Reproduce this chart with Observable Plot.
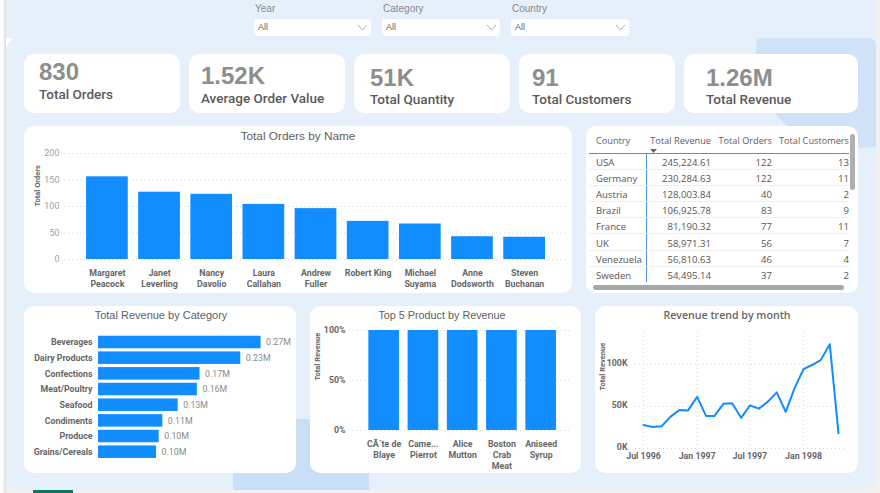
<!DOCTYPE html>
<html><head><meta charset="utf-8">
<script src="https://cdn.jsdelivr.net/npm/d3@7"></script>
<script src="https://cdn.jsdelivr.net/npm/@observablehq/plot@0.6"></script>
<style>
html,body{margin:0;padding:0;background:#f1f1f1;width:880px;height:493px;overflow:hidden;position:relative;font-family:"Open Sans",sans-serif}
.abs,.card,.kv,.kl,.title,.slab,.sbox{position:absolute}
#strip{position:absolute;left:0;top:0;width:6px;height:493px;background:linear-gradient(90deg,#fff,#fafafa 50%,#dcdcdc)}
#panel{position:absolute;left:6px;top:0;width:870px;height:490px;background:#e6f0fb;border-radius:0 0 10px 10px}
#green{position:absolute;left:33px;top:490px;width:40px;height:3px;background:#0b7a5f}
#deco{position:absolute;left:0;top:0}
.card{background:#fff;border-radius:10px;overflow:hidden}
.card svg{display:block;position:absolute;left:0;top:0}
.kv{font:bold 24px "Liberation Sans",sans-serif;color:#8e8e8e;line-height:24px;white-space:nowrap}
.kl{font:500 13.5px Roboto,sans-serif;color:#5a5a5a;line-height:16px;white-space:nowrap}
.title{color:#605e5c;white-space:nowrap;transform:translate(-50%,-50%);font:12px "Liberation Sans",sans-serif}
.slab{font:10px "Liberation Sans",sans-serif;color:#8a8a8a}
.sbox{background:#fff;border-radius:4px;height:17px;font:9px/17px "Liberation Sans",sans-serif;color:#666;box-sizing:border-box;padding-left:4px}
.sbox svg{position:absolute;right:3px;top:4px}
table{position:absolute;border-collapse:collapse;table-layout:fixed;left:3px;top:5px;width:260px;font:9.6px "Open Sans",sans-serif;color:#555}
th{font-weight:500;font-size:9.2px;height:22px;padding:0 0 2px 0;box-sizing:border-box;text-align:right;white-space:nowrap;vertical-align:middle;color:#605e5c;border-bottom:1.5px solid #4a94e6;position:relative}
td{height:13.2px;padding:2px 0 0 0;text-align:right;border-bottom:1px solid #eee;line-height:13px;white-space:nowrap}
th:first-child,td:first-child{text-align:left;padding-left:7px}
td:first-child{border-right:1.5px solid #4a94e6}
tr:last-child td{border-bottom:none}
</style></head><body>
<div id="strip"></div><div id="panel"></div><div id="green"></div>
<svg id="deco" width="880" height="493">
<path d="M757 38C752 70 760 105 790 128C810 142 850 153 876 146L876 46Q876 38 868 38Z" fill="#cfe2f8"/>
<rect x="233" y="419" width="136" height="71" fill="#c9dff5"/>
<path d="M6 38L13 38L6 47Z" fill="#fff"/>
</svg>
<div id="root"></div>
<script>
const ORDER_NAMES = ["Margaret\nPeacock","Janet\nLeverling","Nancy\nDavolio","Laura\nCallahan","Andrew\nFuller","Robert King","Michael\nSuyama","Anne\nDodsworth","Steven\nBuchanan"];
const ORDER_VALUES = [156,127,123,104,96,72,67,43,42];
const CATEGORIES = ["Beverages","Dairy Products","Confections","Meat/Poultry","Seafood","Condiments","Produce","Grains/Cereals"];
const CATEGORY_REVENUE = [268000,234500,167400,163000,131300,106000,100000,95700];
const PRODUCTS = ["CÃ´te de\nBlaye","Came...\nPierrot","Alice\nMutton","Boston\nCrab\nMeat","Aniseed\nSyrup"];
const PRODUCT_SHARE = [100,100,100,100,100];
const MONTHS = ["1996-07","1996-08","1996-09","1996-10","1996-11","1996-12","1997-01","1997-02","1997-03","1997-04","1997-05","1997-06","1997-07","1997-08","1997-09","1997-10","1997-11","1997-12","1998-01","1998-02","1998-03","1998-04","1998-05"];
const MONTH_REVENUE = [27900,25500,26400,37500,45600,45200,61300,38500,38500,53000,53800,36400,51000,47300,55600,66700,43500,71400,94200,99400,104900,123800,18300];
const KPI_VALUES = ["830","1.52K","51K","91","1.26M"];
const KPI_LABELS = ["Total Orders","Average Order Value","Total Quantity","Total Customers","Total Revenue"];
const TABLE_HEAD = ["Country","Total Revenue","Total Orders","Total Customers"];
const TABLE_COUNTRY = ["USA","Germany","Austria","Brazil","France","UK","Venezuela","Sweden"];
const TABLE_REVENUE = ["245,224.61","230,284.63","128,003.84","106,925.78","81,190.32","58,971.31","56,810.63","54,495.14"];
const TABLE_ORDERS = [122,122,40,83,77,56,46,37];
const TABLE_CUSTOMERS = [13,11,2,9,11,7,4,2];
const SLICERS = ["Year","Category","Country"];

const BLUE="#118dff", root=document.getElementById("root");
const axisFont='Roboto,sans-serif';
function el(cls,css,html){const d=document.createElement("div");d.className=cls;Object.assign(d.style,css);if(html!=null)d.innerHTML=html;return d}
function card(x,y,w,h){const c=el("card",{left:x+"px",top:y+"px",width:w+"px",height:h+"px"});root.append(c);return c}
function title(t,cx,cy,css){const d=el("title",Object.assign({left:cx+"px",top:cy+"px"},css||{}));d.textContent=t;root.append(d)}
const grid=(ticks,extra={})=>Plot.gridY(ticks,{stroke:"#d9d9d9",strokeOpacity:1,strokeDasharray:"1,3",strokeWidth:1,...extra});
const yLabel=(t,dx)=>Plot.text([t],{frameAnchor:"left",rotate:-90,dx,fontSize:7.5,fontWeight:700,fill:"#666"});

// slicers
[[254,117],[382,118],[511,118]].forEach(([x,w],i)=>{
  const l=el("slab",{left:(x+1)+"px",top:"3px"});l.textContent=SLICERS[i];root.append(l);
  const b=el("sbox",{left:x+"px",top:"19px",width:w+"px"},'All<svg width="11" height="9"><path d="M1 2L5.5 7L10 2" fill="none" stroke="#999" stroke-width="0.8"/></svg>');root.append(b);
});

// KPI cards
const KPI=[[24,156,39,60,87],[189,156,201,64,91],[354,156,370,66,92],[519,156,532,66,92],[684,174,706,66,92]];
KPI.forEach(([x,w,tx,vy,ly],i)=>{
  card(x,54,w,59);
  const v=el("kv",{left:tx+"px",top:vy+"px"});v.textContent=KPI_VALUES[i];root.append(v);
  const k=el("kl",{left:tx+"px",top:ly-1+"px"});k.textContent=KPI_LABELS[i];root.append(k);
});

// Total Orders by Name
const c1=card(24,126,548,167);
c1.append(Plot.plot({width:548,height:167,marginTop:27,marginBottom:34,marginLeft:40,marginRight:6,
  style:{fontFamily:axisFont,background:"transparent"},
  x:{domain:ORDER_NAMES,padding:0.2,round:false,insetLeft:11.6,insetRight:10.6},
  y:{domain:[0,200]},
  marks:[
    grid([0,50,100,150,200]),
    Plot.barY(ORDER_VALUES,{x:(d,i)=>ORDER_NAMES[i],y:d=>d,fill:BLUE}),
    Plot.axisY({ticks:[0,50,100,150,200],tickSize:0,tickPadding:5,fontSize:9,fill:"#a0a0a0",label:null}),
    Plot.axisX({tickSize:0,tickPadding:9,fontSize:8.8,fontWeight:700,fill:"#666",label:null,lineHeight:1.25,textOverflow:null}),
    yLabel("Total Orders",-27)
  ]}));
title("Total Orders by Name",298,136,{fontSize:"11.8px"});

// Table
const c2=card(586,126,272,167);
const tbl=document.createElement("table");
tbl.innerHTML='<colgroup><col style="width:57px"><col style="width:65px"><col style="width:61px"><col style="width:77px"></colgroup>'+
 '<tr>'+TABLE_HEAD.map((h,i)=>`<th>${h}${i==1?'<svg style="position:absolute;left:4px;top:18px" width="7" height="4"><path d="M0 0H7L3.5 4Z" fill="#666"/></svg>':''}</th>`).join("")+'</tr>'+
 TABLE_COUNTRY.map((c,i)=>`<tr><td>${c}</td><td>${TABLE_REVENUE[i]}</td><td>${TABLE_ORDERS[i]}</td><td>${TABLE_CUSTOMERS[i]}</td></tr>`).join("");
c2.append(tbl);
c2.append(el("abs",{left:"264px",top:"8px",width:"5px",height:"56px",background:"#b0b0b0",borderRadius:"3px"}));
c2.append(el("abs",{left:"7px",top:"159px",width:"251px",height:"5px",background:"#a8a8a8",borderRadius:"3px"}));

// Total Revenue by Category
const c3=card(24,306,272,167);
c3.append(Plot.plot({width:272,height:167,marginTop:26.6,marginBottom:11.9,marginLeft:74,marginRight:16,
  style:{fontFamily:axisFont,background:"transparent"},
  y:{domain:CATEGORIES,padding:0.2,round:false},
  x:{domain:[0,300000],axis:null},
  marks:[
    Plot.barX(CATEGORY_REVENUE,{y:(d,i)=>CATEGORIES[i],x:d=>d,fill:BLUE}),
    Plot.text(CATEGORY_REVENUE,{y:(d,i)=>CATEGORIES[i],x:d=>d,text:d=>(d/1e6).toFixed(2)+"M",textAnchor:"start",dx:5,fontSize:8.8,fill:"#8a8a8a"}),
    Plot.axisY({tickSize:0,tickPadding:6,fontSize:8.8,fontWeight:700,fill:"#666",label:null,textOverflow:null}),
  ]}));
title("Total Revenue by Category",161,315,{fontSize:"11px"});

// Top 5 Product
const c4=card(310,306,271,167);
c4.append(Plot.plot({width:271,height:167,marginTop:24,marginBottom:43,marginLeft:42,marginRight:9,
  style:{fontFamily:axisFont,background:"transparent"},
  x:{domain:PRODUCTS,padding:0.22,round:false,insetLeft:7.7,insetRight:7.4},
  y:{domain:[0,100]},
  marks:[
    grid([0,50,100]),
    Plot.barY(PRODUCT_SHARE,{x:(d,i)=>PRODUCTS[i],y:d=>d,fill:BLUE}),
    Plot.axisY({ticks:[0,50,100],tickFormat:d=>d+"%",tickSize:0,tickPadding:7,fontSize:8.8,fontWeight:700,fill:"#666",label:null}),
    Plot.axisX({tickSize:0,tickPadding:9,fontSize:8.8,fontWeight:700,fill:"#666",label:null,lineHeight:1.25,textOverflow:null}),
    yLabel("Total Revenue",-35)
  ]}));
title("Top 5 Product by Revenue",442,315,{fontSize:"10.8px"});

// Revenue trend
const parse=d3.utcParse("%Y-%m");
const dates=MONTHS.map(parse);
const c5=card(595,306,263,167);
const fmtM=d3.utcFormat("%b %Y");
const xt=["1996-07","1997-01","1997-07","1998-01"].map(parse);
c5.append(Plot.plot({width:263,height:167,marginTop:26,marginBottom:25,marginLeft:40,marginRight:13,
  style:{fontFamily:axisFont,background:"transparent"},
  x:{type:"utc",domain:[dates[0],dates[dates.length-1]],insetLeft:8,insetRight:7},
  y:{domain:[0,137700]},
  marks:[
    grid([0,50000,100000]),
    Plot.gridX(xt,{stroke:"#d9d9d9",strokeOpacity:1,strokeDasharray:"1,3"}),
    Plot.line(MONTH_REVENUE,{x:(d,i)=>dates[i],y:d=>d,stroke:BLUE,strokeWidth:2}),
    Plot.axisY({ticks:[0,50000,100000],tickFormat:d=>(d/1000)+"K",tickSize:0,tickPadding:8,fontSize:8.8,fontWeight:700,fill:"#666",label:null,dy:-1}),
    Plot.axisX({ticks:xt,tickFormat:fmtM,tickSize:0,tickPadding:4,fontSize:8.8,fontWeight:700,fill:"#666",label:null}),
    yLabel("Total Revenue",-33)
  ]}));
title("Revenue trend by month",727,315,{fontFamily:'"Open Sans",sans-serif',fontWeight:"600",fontSize:"10.6px",color:"#666"});
</script>
</body></html>
